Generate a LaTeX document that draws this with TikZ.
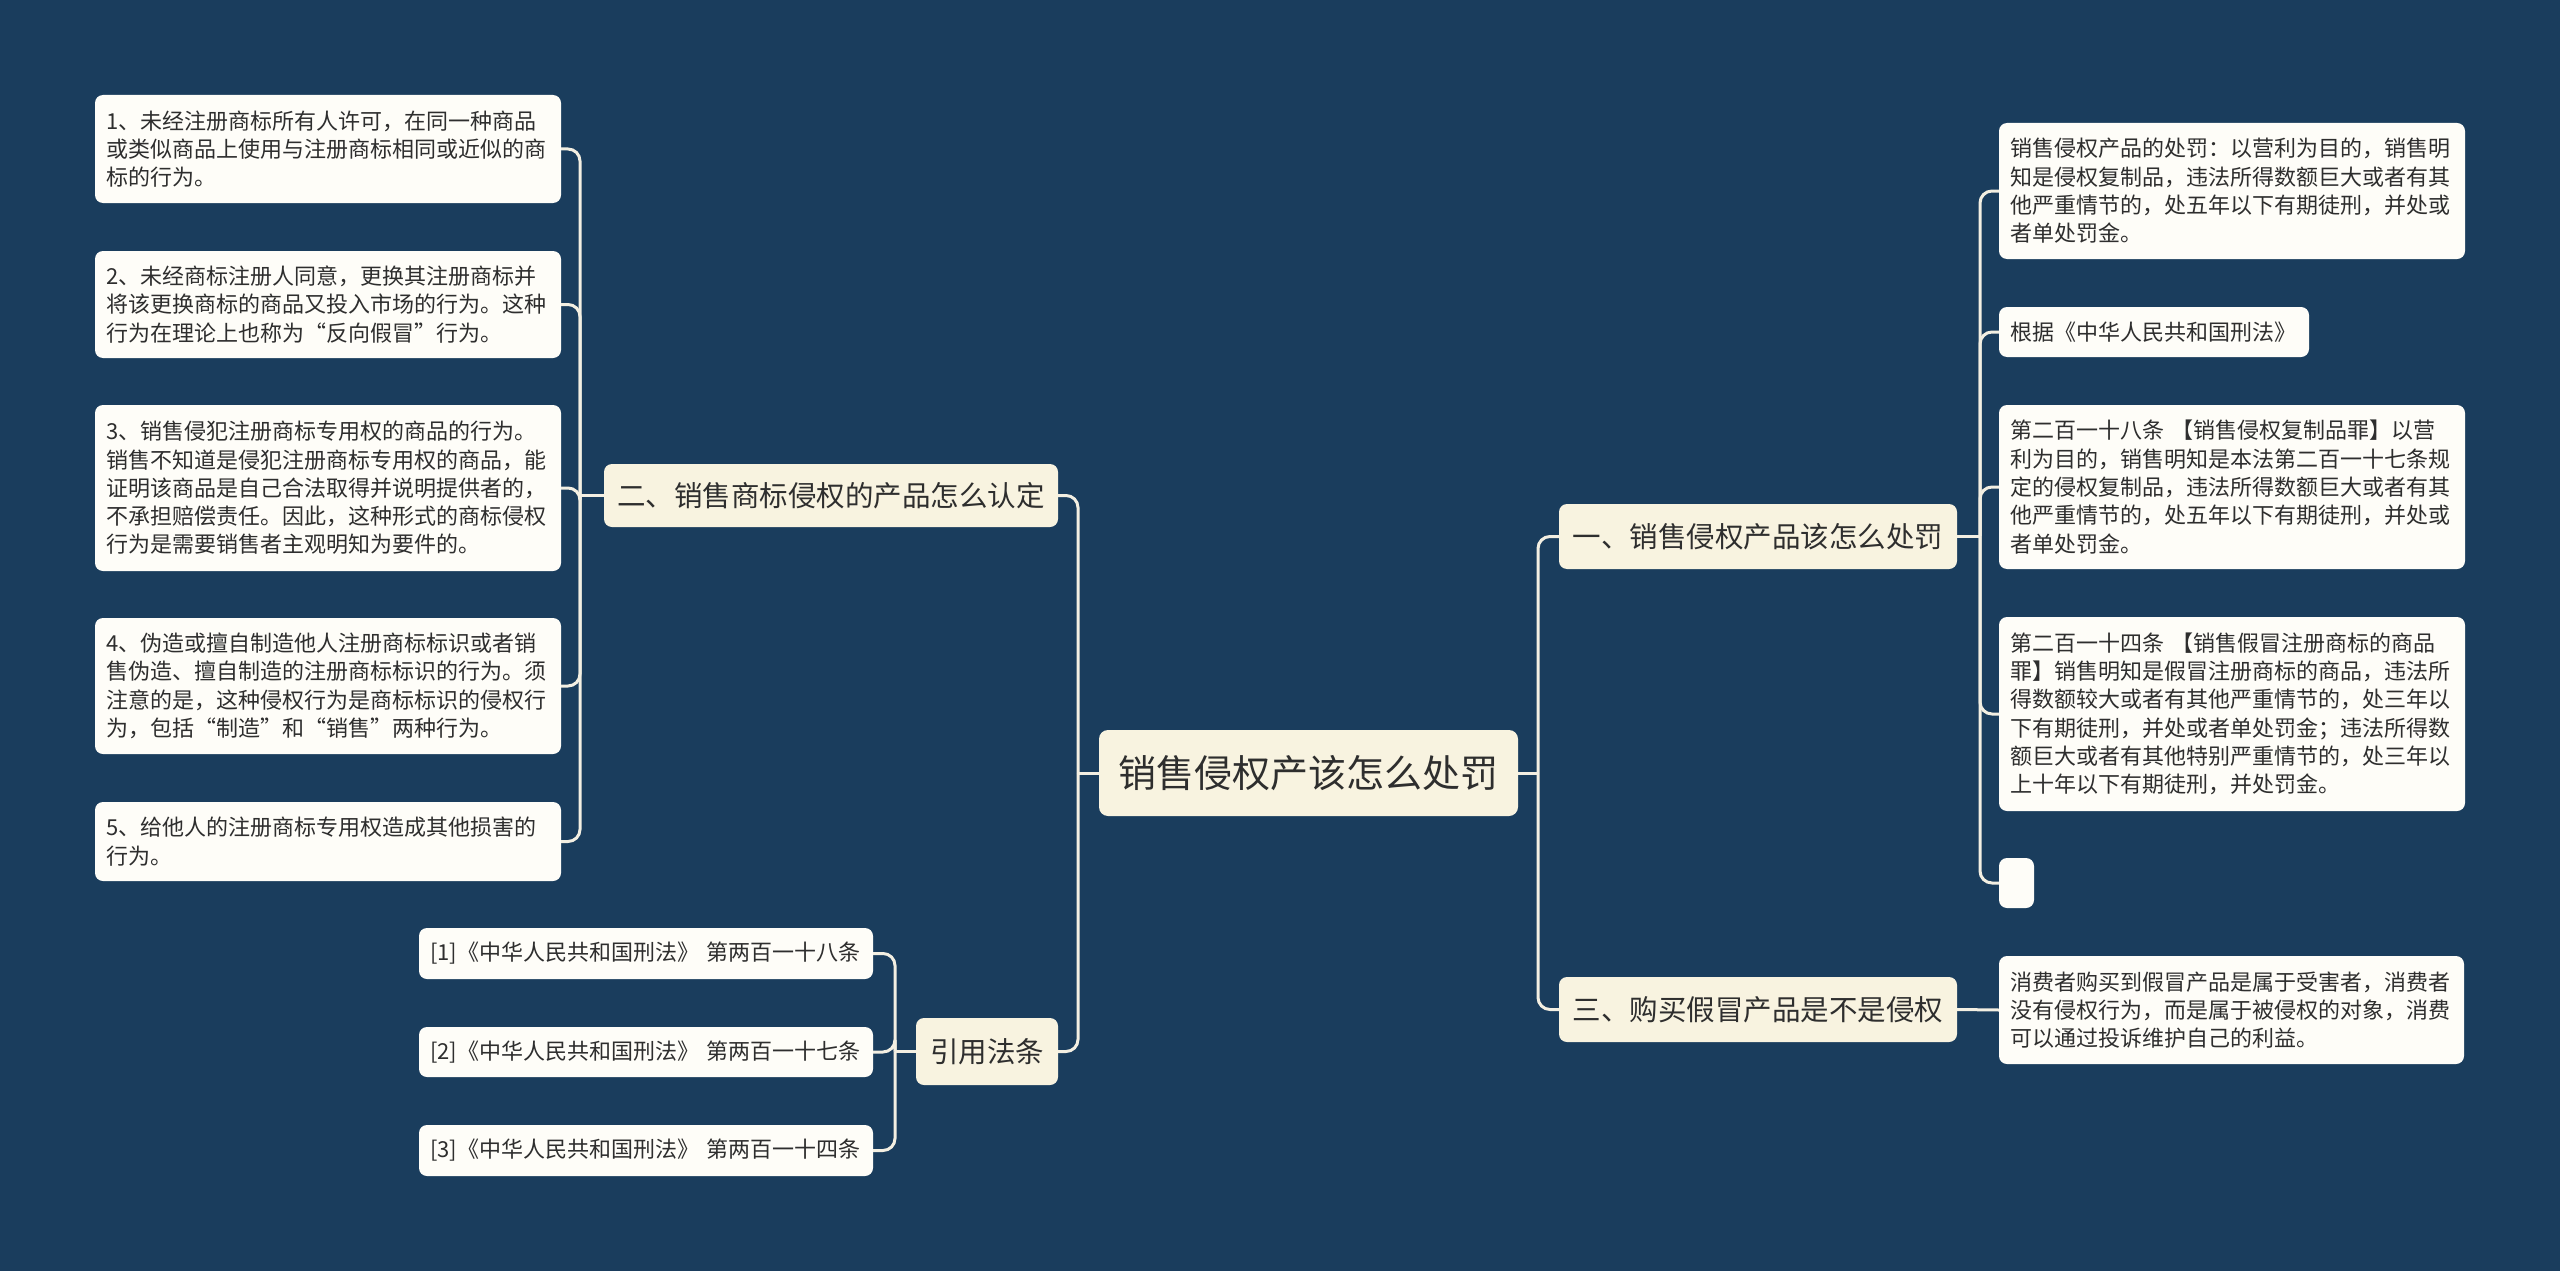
\documentclass[tikz,border=0pt]{standalone}
\usepackage{fontspec}
\setmainfont{Noto Sans CJK SC}
\definecolor{bg}{HTML}{1A3D5D}
\definecolor{cream}{HTML}{F8F3E0}
\definecolor{leaffill}{HTML}{FEFDF8}
\definecolor{txt}{HTML}{2E2E2E}
\definecolor{linec}{HTML}{F3EFE2}
\begin{document}
\begin{tikzpicture}[x=1pt,y=-1pt,
  leaf/.style={fill=leaffill, rounded corners=8pt, align=left, inner xsep=11pt, inner ysep=0pt,
    font=\fontsize{22}{28.3}\selectfont, text=txt, anchor=center},
  topic/.style={fill=cream, rounded corners=8pt, align=center, inner xsep=8pt, inner ysep=0pt,
    font=\fontsize{28.5}{34}\selectfont, text=txt, anchor=center},
  rootnode/.style={fill=cream, rounded corners=9pt, align=center, inner sep=0pt,
    font=\fontsize{38}{44}\selectfont, text=txt, anchor=center},
  conn/.style={draw=linec, line width=3pt},
  elbow/.style={conn, rounded corners=12pt}
]
\useasboundingbox (0,0) rectangle (2560,1271);
\fill[bg] (0,0) rectangle (2560,1271);

% root
\node[rootnode, minimum width=419pt, minimum height=86pt] (root) at (1308.5,773) {销售侵权产该怎么处罚};

% level 1
\node[topic, minimum width=454pt, minimum height=63pt] (t2) at (831,495.5) {二、销售商标侵权的产品怎么认定};
\node[topic, minimum width=142pt, minimum height=67pt] (tr) at (987,1051.5) {引用法条};
\node[topic, minimum width=398pt, minimum height=65pt] (t1) at (1758,536.5) {一、销售侵权产品该怎么处罚};
\node[topic, minimum width=398pt, minimum height=65pt] (t3) at (1758,1009.5) {三、购买假冒产品是不是侵权};

% left leaves
\node[leaf, text width=444pt, minimum height=108pt] (b1) at (328,149) {1、未经注册商标所有人许可，在同一种商品\\或类似商品上使用与注册商标相同或近似的商\\标的行为。};
\node[leaf, text width=444pt, minimum height=107pt] (b2) at (328,304.5) {2、未经商标注册人同意，更换其注册商标并\\将该更换商标的商品又投入市场的行为。这种\\行为在理论上也称为“反向假冒”行为。};
\node[leaf, text width=444pt, minimum height=166pt] (b3) at (328,488) {3、销售侵犯注册商标专用权的商品的行为。\\销售不知道是侵犯注册商标专用权的商品，能\\证明该商品是自己合法取得并说明提供者的，\\不承担赔偿责任。因此，这种形式的商标侵权\\行为是需要销售者主观明知为要件的。};
\node[leaf, text width=444pt, minimum height=136pt] (b4) at (328,686) {4、伪造或擅自制造他人注册商标标识或者销\\售伪造、擅自制造的注册商标标识的行为。须\\注意的是，这种侵权行为是商标标识的侵权行\\为，包括“制造”和“销售”两种行为。};
\node[leaf, text width=444pt, minimum height=79pt] (b5) at (328,841.5) {5、给他人的注册商标专用权造成其他损害的\\行为。};

% references
\node[leaf, text width=432pt, minimum height=51pt] (r1) at (646,953.5) {[1]《中华人民共和国刑法》 第两百一十八条};
\node[leaf, text width=432pt, minimum height=50pt] (r2) at (646,1052) {[2]《中华人民共和国刑法》 第两百一十七条};
\node[leaf, text width=432pt, minimum height=51pt] (r3) at (646,1150.5) {[3]《中华人民共和国刑法》 第两百一十四条};

% right leaves
\node[leaf, text width=444pt, minimum height=136pt] (c1) at (2232,191) {销售侵权产品的处罚：以营利为目的，销售明\\知是侵权复制品，违法所得数额巨大或者有其\\他严重情节的，处五年以下有期徒刑，并处或\\者单处罚金。};
\node[leaf, text width=288pt, minimum height=50pt] (c2) at (2154,332) {根据《中华人民共和国刑法》};
\node[leaf, text width=444pt, minimum height=164pt] (c3) at (2232,487) {第二百一十八条 【销售侵权复制品罪】以营\\利为目的，销售明知是本法第二百一十七条规\\定的侵权复制品，违法所得数额巨大或者有其\\他严重情节的，处五年以下有期徒刑，并处或\\者单处罚金。};
\node[leaf, text width=444pt, minimum height=194pt] (c4) at (2232,714) {第二百一十四条 【销售假冒注册商标的商品\\罪】销售明知是假冒注册商标的商品，违法所\\得数额较大或者有其他严重情节的，处三年以\\下有期徒刑，并处或者单处罚金；违法所得数\\额巨大或者有其他特别严重情节的，处三年以\\上十年以下有期徒刑，并处罚金。};
\node[leaf, inner sep=0pt, minimum width=35pt, minimum height=50pt] (c5) at (2016.5,883) {};
\node[leaf, text width=443pt, minimum height=108pt] (d1) at (2231.5,1010) {消费者购买到假冒产品是属于受害者，消费者\\没有侵权行为，而是属于被侵权的对象，消费\\可以通过投诉维护自己的利益。};

% junction coordinates
\coordinate (jl) at (1078,773);
\coordinate (jr) at (1538,773);
\coordinate (j2) at (580,495.5);
\coordinate (jt) at (895,1051.5);
\coordinate (j1) at (1980,536.5);

% root connectors
\draw[conn] (root.west) -- (jl);
\draw[elbow] (jl) |- (t2.east);
\draw[elbow] (jl) |- (tr.east);
\draw[conn] (root.east) -- (jr);
\draw[elbow] (jr) |- (t1.west);
\draw[elbow] (jr) |- (t3.west);

% 二 connectors
\draw[conn] (t2.west) -- (j2);
\draw[elbow] (j2) |- (b1.east);
\draw[elbow] (j2) |- (b2.east);
\draw[elbow] (j2) |- (b3.east);
\draw[elbow] (j2) |- (b4.east);
\draw[elbow] (j2) |- (b5.east);

% 引用法条 connectors
\draw[conn] (tr.west) -- (jt);
\draw[elbow] (jt) |- (r1.east);
\draw[elbow] (jt) |- (r2.east);
\draw[elbow] (jt) |- (r3.east);

% 一 connectors
\draw[conn] (t1.east) -- (j1);
\draw[elbow] (j1) |- (c1.west);
\draw[elbow] (j1) |- (c2.west);
\draw[elbow] (j1) |- (c3.west);
\draw[elbow] (j1) |- (c4.west);
\draw[elbow] (j1) |- (c5.west);

% 三 connector
\draw[conn] (t3.east) -- (d1.west);
\end{tikzpicture}
\end{document}
